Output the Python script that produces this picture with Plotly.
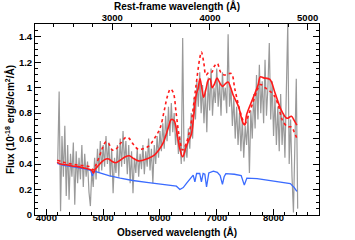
import numpy as np
import plotly.graph_objects as go

Z1 = 1.72  # 1+z, observed -> rest frame

# Observed spectrum (grey), 25 A sampling starting at 4200 A
gray_start = 4200
gray_step = 25
gray_flux = [
    0.42, 0.97, 0.03, 0.62, 0.30, 0.70, 0.15, 0.55, 0.12, 0.48, 0.30, 0.57,
    0.08, 0.50, 0.25, 0.45, 0.28, 0.55, 0.22, 0.48, 0.30, 0.42, 0.18, 0.07,
    0.35, 0.22, 0.45, 0.28, 0.52, 0.33, 0.58, 0.35, 0.55, 0.38, 0.62, 0.40,
    0.57, 0.30, 0.52, 0.17, 0.45, 0.33, 0.55, 0.30, 0.60, 0.38, 0.66, 0.40,
    0.58, 0.32, 0.55, 0.25, 0.50, 0.17, 0.45, 0.33, 0.52, 0.30, 0.48, 0.36,
    0.55, 0.32, 0.50, 0.38, 0.60, 0.35, 0.52, 0.25, 0.55, 0.40, 0.62, 0.45,
    0.66, 0.50, 0.72, 0.52, 0.78, 0.58, 0.85, 0.62, 0.88, 0.65, 0.80, 0.55,
    0.70, 0.48, 0.62, 0.40, 1.39, 0.42, 0.55, 0.45, 0.68, 0.52, 0.80, 0.60,
    0.92, 0.75, 1.05, 0.85, 1.12, 0.80, 1.02, 0.72, 0.98, 0.65, 1.08, 0.82,
    1.15, 0.78, 1.00, 0.88, 1.15, 0.85, 1.05, 0.78, 1.12, 0.90, 1.00, 0.80,
    1.42, 0.85, 1.00, 0.70, 0.92, 0.60, 0.85, 0.55, 0.80, 0.50, 0.75, 0.45,
    0.70, 0.55, 0.78, 0.33, 0.82, 0.60, 0.95, 0.68, 1.10, 0.75, 1.18, 0.80,
    1.05, 0.72, 1.22, 0.78, 1.00, 1.35, 0.75, 1.05, 0.62, 0.92, 0.55, 0.85,
    0.50, 0.95, 0.55, 0.80, 0.45, 0.88, 1.50, 0.40, 0.75, 0.30, 0.02, 0.55,
    1.07, 0.05,
]
gray_wave = gray_start + gray_step * np.arange(len(gray_flux))

# Red solid model
red_wave = [4190, 4250, 4350, 4450, 4550, 4650, 4750, 4800, 4830, 4860, 4920,
            4980, 5050, 5100, 5160, 5220, 5300, 5400, 5460, 5530, 5620, 5700,
            5800, 5900, 5980, 6050, 6100, 6150, 6200, 6250, 6300, 6350, 6400,
            6450, 6500, 6550, 6600, 6640, 6670, 6705, 6735, 6770, 6810, 6850,
            6880, 6920, 6960, 7005, 7050, 7100, 7150, 7200, 7245, 7290, 7380,
            7465, 7495, 7525, 7640, 7730, 7765, 7825, 7935, 8025, 8145, 8235,
            8315, 8360, 8410]
red_flux = [0.415, 0.40, 0.395, 0.385, 0.38, 0.37, 0.36, 0.35, 0.33, 0.36, 0.39,
            0.42, 0.44, 0.44, 0.42, 0.41, 0.43, 0.46, 0.465, 0.445, 0.425, 0.43,
            0.445, 0.47, 0.51, 0.56, 0.62, 0.69, 0.75, 0.74, 0.64, 0.52, 0.458,
            0.52, 0.58, 0.63, 0.80, 0.95, 0.99, 1.07, 1.00, 0.925, 0.99, 1.06,
            1.07, 1.00, 1.03, 1.075, 1.04, 1.01, 1.03, 1.045, 1.00, 0.94, 0.855,
            0.72, 0.708, 0.787, 0.92, 1.025, 1.085, 1.077, 1.065, 0.96, 0.815, 0.76,
            0.775, 0.745, 0.705]

# Red dotted model
dot_wave = [4190, 4300, 4450, 4600, 4750, 4830, 4870, 4950, 5000, 5050, 5100,
            5160, 5220, 5300, 5400, 5450, 5530, 5620, 5700, 5800, 5900, 6000,
            6080, 6130, 6185, 6235, 6285, 6335, 6400, 6460, 6540, 6610, 6650,
            6700, 6730, 6770, 6810, 6860, 6910, 6960, 7010, 7070, 7130, 7210,
            7260, 7320, 7410, 7470, 7500, 7570, 7650, 7710, 7770, 7850, 8000,
            8090, 8150, 8240, 8320, 8365, 8410]
dot_flux = [0.43, 0.415, 0.40, 0.39, 0.38, 0.355, 0.39, 0.48, 0.54, 0.575, 0.56,
            0.51, 0.515, 0.56, 0.61, 0.605, 0.555, 0.515, 0.52, 0.54, 0.60, 0.68,
            0.83, 0.93, 0.99, 0.96, 0.80, 0.63, 0.51, 0.56, 0.70, 0.93, 1.07,
            1.23, 1.28, 1.20, 1.10, 1.12, 1.12, 1.17, 1.19, 1.12, 1.10, 1.11,
            1.11, 0.985, 0.815, 0.735, 0.72, 0.80, 0.90, 0.98, 1.025, 1.00, 0.945,
            0.85, 0.75, 0.695, 0.69, 0.65, 0.603]

# Blue model
blue_wave = [4190, 4300, 4450, 4570, 4700, 4780, 4810, 4840, 4930, 5100, 5300,
             5520, 5800, 6110, 6290, 6350, 6410, 6470, 6540, 6585, 6615, 6645,
             6700, 6730, 6760, 6790, 6820, 6860, 6940, 7010, 7060, 7100, 7130,
             7160, 7310, 7430, 7485, 7530, 7710, 7940, 8160, 8295, 8365, 8410]
blue_flux = [0.405, 0.39, 0.38, 0.372, 0.36, 0.35, 0.305, 0.345, 0.332, 0.31, 0.29,
             0.271, 0.255, 0.24, 0.226, 0.20, 0.215, 0.25, 0.29, 0.313, 0.26, 0.326,
             0.326, 0.26, 0.326, 0.32, 0.22, 0.33, 0.345, 0.335, 0.31, 0.24, 0.30,
             0.325, 0.32, 0.31, 0.235, 0.29, 0.285, 0.268, 0.255, 0.247, 0.215, 0.185]

x_ticks = [4000, 5000, 6000, 7000, 8000]
rest_ticks = [3000, 4000, 5000]
y_ticks = [0, 0.2, 0.4, 0.6, 0.8, 1, 1.2, 1.4]

XR = [3800, 8800]
YR = [0, 1.5]

FONT = "Liberation Sans, Arial, sans-serif"
tickfont = dict(family=FONT, size=9.5, color="black", weight="bold")
titlefont = dict(family=FONT, size=10, color="black", weight="bold")

fig = go.Figure()
fig.add_trace(go.Scatter(x=gray_wave, y=gray_flux, mode="lines",
                         line=dict(color="#9a9a9a", width=1.2), showlegend=False))
fig.add_trace(go.Scatter(x=blue_wave, y=blue_flux, mode="lines",
                         line=dict(color="#3a6bff", width=1.3), showlegend=False))
fig.add_trace(go.Scatter(x=dot_wave, y=dot_flux, mode="lines", line_shape="spline",
                         line=dict(color="#ff1a1a", width=1.6, dash="dot"), showlegend=False))
fig.add_trace(go.Scatter(x=red_wave, y=red_flux, mode="lines", line_shape="spline",
                         line=dict(color="#ff1a1a", width=1.6), showlegend=False))
# invisible trace to carry the rest-frame axis
fig.add_trace(go.Scatter(x=[XR[0] / Z1, XR[1] / Z1], y=[None, None], xaxis="x2",
                         mode="lines", showlegend=False, hoverinfo="skip"))

fig.update_layout(
    width=355, height=240,
    margin=dict(l=35, r=36, t=24, b=24.5, autoexpand=False),
    paper_bgcolor="white", plot_bgcolor="white",
    xaxis=dict(range=XR, tickvals=x_ticks, ticktext=[str(v) for v in x_ticks],
               ticks="inside", ticklen=6, tickwidth=1, tickcolor="black",
               showline=True, linecolor="black", linewidth=1, showgrid=False,
               zeroline=False, tickfont=tickfont, automargin=False,
               ticklabelstandoff=-6,
               minor=dict(dtick=200, tick0=4000, ticks="inside", ticklen=3,
                          tickcolor="black", showgrid=False)),
    xaxis2=dict(range=[XR[0] / Z1, XR[1] / Z1], overlaying="x", side="top", anchor="y",
                tickvals=rest_ticks, ticktext=[str(v) for v in rest_ticks],
                ticks="inside", ticklen=6, tickwidth=1, tickcolor="black",
                showline=True, linecolor="black", linewidth=1, showgrid=False,
                zeroline=False, tickfont=tickfont, automargin=False,
                ticklabelstandoff=-2,
                minor=dict(dtick=200, tick0=3000, ticks="inside", ticklen=3,
                           tickcolor="black", showgrid=False)),
    yaxis=dict(range=YR, tickvals=y_ticks, ticktext=[f"{v:g}" for v in y_ticks],
               ticks="inside", ticklen=6, tickwidth=1, tickcolor="black",
               showline=True, linecolor="black", linewidth=1, mirror="ticks",
               showgrid=False, zeroline=False, tickfont=tickfont, automargin=False,
               minor=dict(dtick=0.05, ticks="inside", ticklen=3,
                          tickcolor="black", showgrid=False),
               title=dict(text="Flux (10<sup>-18</sup> erg/s/cm<sup>2</sup>/Å)",
                          font=titlefont, standoff=2)),
    annotations=[
        dict(text="Observed wavelength (Å)", xref="paper", yref="paper", x=0.5, y=0,
             xanchor="center", yanchor="middle", yshift=-16.5, showarrow=False,
             font=titlefont),
        dict(text="Rest-frame wavelength (Å)", xref="paper", yref="paper", x=0.5, y=1,
             xanchor="center", yanchor="middle", yshift=18.5, showarrow=False,
             font=titlefont),
    ],
)

fig.write_html("out.html", config={"displayModeBar": False},
               post_script="document.body.style.margin='0';document.body.style.padding='0';")
